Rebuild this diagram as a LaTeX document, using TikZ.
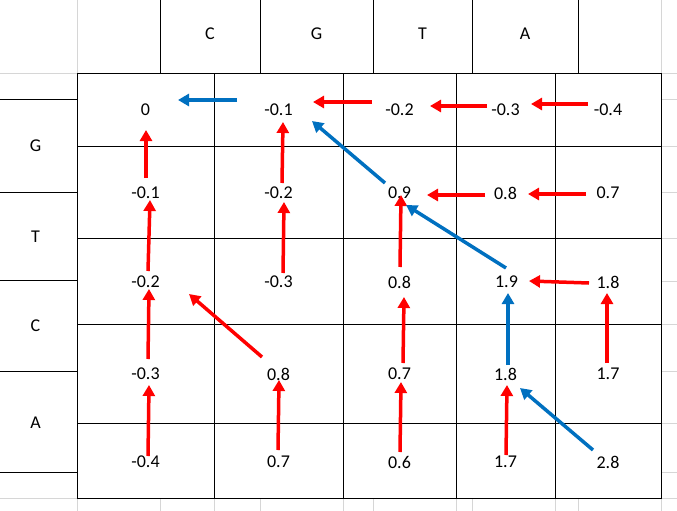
\documentclass[tikz,border=0pt]{standalone}
\usepackage{fontspec}
\setmainfont{Carlito}
\usetikzlibrary{arrows.meta}
\definecolor{xred}{RGB}{255,0,0}
\definecolor{xblue}{RGB}{0,112,192}
\definecolor{xgrid}{RGB}{214,214,214}
\begin{document}
\begin{tikzpicture}[x=1pt,y=-1pt,
  cell/.style={inner sep=0pt,font=\fontsize{18}{20}\selectfont},
  gridline/.style={draw=xgrid,line width=1pt},
  border/.style={draw=black,line width=1pt},
  ra/.style={draw=xred,line width=3.5pt,-{Triangle[length=11pt,width=12pt]}},
  ba/.style={draw=xblue,line width=3.5pt,-{Triangle[length=11pt,width=12pt]}}]
\useasboundingbox (0,0) rectangle (677,511);
\fill[white] (0,0) rectangle (677,511);
% spreadsheet gridlines
\draw[gridline] (77,0) -- (77,73) -- (0,73);
\draw[gridline] (661.5,0) -- (661.5,511);
\foreach \y in {73,99,146,192,238,281,324,371,423,472,498} \draw[gridline] (661.5,\y) -- (677,\y);
\foreach \x in {77,160,214,260,343,373,456,472,555,578} \draw[gridline] (\x,498) -- (\x,511);
\draw[gridline] (0,498.5) -- (77,498.5);
% borders
\draw[border] (77,73) rectangle (661,498);
\foreach \x in {214,343,456,555} \draw[border] (\x,73) -- (\x,498);
\foreach \y in {146,238,324,423} \draw[border] (77,\y) -- (661,\y);
\foreach \x in {160,260,373,472,578} \draw[border] (\x,0) -- (\x,73);
\foreach \y in {99,192,280,371,472} \draw[border] (0,\y) -- (77,\y);
% headers
\node[cell] (h1) at (210,34) {C};
\node[cell] (h2) at (316.5,34) {G};
\node[cell] (h3) at (422.5,34) {T};
\node[cell] (h4) at (525,34) {A};
\node[cell] (l1) at (35.5,146) {G};
\node[cell] (l2) at (35.5,237) {T};
\node[cell] (l3) at (35.5,325.5) {C};
\node[cell] (l4) at (35.5,422.5) {A};
% values
\node[cell] (n11) at (145.5,110) {0};
\node[cell] (n12) at (278.5,110) {-0.1};
\node[cell] (n13) at (399.5,110) {-0.2};
\node[cell] (n14) at (505.5,110) {-0.3};
\node[cell] (n15) at (608,110) {-0.4};
\node[cell] (n21) at (145.5,193) {-0.1};
\node[cell] (n22) at (278.5,193) {-0.2};
\node[cell] (n23) at (399.5,193) {0.9};
\node[cell] (n24) at (505.5,193) {0.8};
\node[cell] (n25) at (608,193) {0.7};
\node[cell] (n31) at (145.5,282) {-0.2};
\node[cell] (n32) at (278.5,282) {-0.3};
\node[cell] (n33) at (399.5,282) {0.8};
\node[cell] (n34) at (506.5,282) {1.9};
\node[cell] (n35) at (608,282) {1.8};
\node[cell] (n41) at (145.5,374) {-0.3};
\node[cell] (n42) at (278.5,374) {0.8};
\node[cell] (n43) at (399.5,374) {0.7};
\node[cell] (n44) at (505.5,374) {1.8};
\node[cell] (n45) at (608,374) {1.7};
\node[cell] (n51) at (145.5,462) {-0.4};
\node[cell] (n52) at (278.5,462) {0.7};
\node[cell] (n53) at (399.5,462) {0.6};
\node[cell] (n54) at (505.5,462) {1.7};
\node[cell] (n55) at (608,462) {2.8};
% arrow end points
\coordinate (r1s) at (372,102); \coordinate (r1e) at (313,102);
\coordinate (r2s) at (487,106); \coordinate (r2e) at (430,106);
\coordinate (r3s) at (588,104); \coordinate (r3e) at (531,104);
\coordinate (r4s) at (146,178); \coordinate (r4e) at (146,130);
\coordinate (r5s) at (282,183); \coordinate (r5e) at (283,122);
\coordinate (r6s) at (485,195); \coordinate (r6e) at (427,195);
\coordinate (r7s) at (586,194); \coordinate (r7e) at (528,194);
\coordinate (r8s) at (148,271); \coordinate (r8e) at (150,200);
\coordinate (r9s) at (283,273); \coordinate (r9e) at (284,202);
\coordinate (r10s) at (400,267); \coordinate (r10e) at (401,195);
\coordinate (r11s) at (589,283); \coordinate (r11e) at (529,281);
\coordinate (r12s) at (148,359); \coordinate (r12e) at (149,289);
\coordinate (r13s) at (262,357); \coordinate (r13e) at (189,294);
\coordinate (r14s) at (403,363); \coordinate (r14e) at (404,297);
\coordinate (r15s) at (607,363); \coordinate (r15e) at (607,293);
\coordinate (r16s) at (148,456); \coordinate (r16e) at (149,385);
\coordinate (r17s) at (278,450); \coordinate (r17e) at (279,380);
\coordinate (r18s) at (400,452); \coordinate (r18e) at (401,382);
\coordinate (r19s) at (506,455); \coordinate (r19e) at (507,385);
\coordinate (b1s) at (237,100); \coordinate (b1e) at (178,100);
\coordinate (b2s) at (385,183); \coordinate (b2e) at (312,121);
\coordinate (b3s) at (506,268); \coordinate (b3e) at (406,205);
\coordinate (b4s) at (508,365); \coordinate (b4e) at (508,293);
\coordinate (b5s) at (593,450); \coordinate (b5e) at (520,388);
\foreach \i in {1,...,19} \draw[ra] (r\i s) -- (r\i e);
\foreach \i in {1,...,5} \draw[ba] (b\i s) -- (b\i e);
\end{tikzpicture}
\end{document}
